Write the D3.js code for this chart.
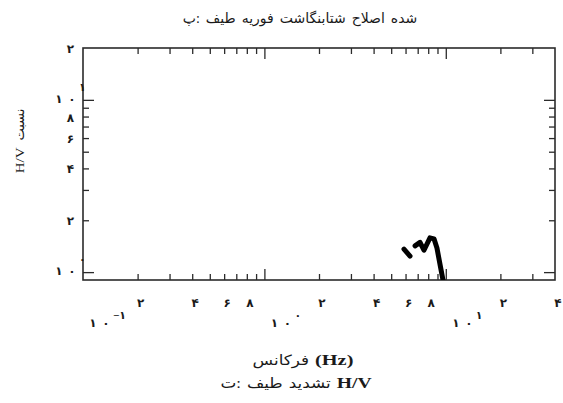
<!DOCTYPE html>
<html>
<head>
<meta charset="utf-8">
<script src="https://cdn.jsdelivr.net/npm/d3@7"></script>
<style>
  html, body { margin: 0; padding: 0; background: #fff; }
  svg { display: block; }
  text { font-family: "Liberation Serif", "DejaVu Sans", serif; fill: #1a1a1a; }
</style>
</head>
<body>
<script>
// ---------- data ----------
const titleWords   = ["پ:", "طیف", "فوریه", "شتابنگاشت", "اصلاح", "شده"];
const xTitleWords  = ["فرکانس", "(Hz)"];
const captionWords = ["ت:", "طیف", "تشدید", "H/V"];
const yTitleWords  = ["H/V", "نسبت"];

const xDomain = [0.1, 40];
const yDomain = [0.9, 20];

const xMinorTicks = [0.2, 0.3, 0.4, 0.5, 0.6, 0.7, 0.8, 0.9, 2, 3, 4, 5, 6, 7, 8, 9, 20, 30];
const xMajorTicks = [1, 10];
const yMinorTicks = [2, 3, 4, 5, 6, 7, 8, 9];
const yMajorTicks = [1, 10];

const xDigitValues = [0.2, 0.4, 0.6, 0.8, 2, 4, 6, 8, 20, 40];
const xDigitLabels = ["۲", "۴", "۶", "۸", "۲", "۴", "۶", "۸", "۲", "۴"];
const xDecadeValues = [0.1, 1, 10];
const xDecadeExps   = ["−۱", "۰", "۱"];

const yDigitValues = [2, 4, 6, 8, 20];
const yDigitLabels = ["۲", "۴", "۶", "۸", "۲"];
const yDecadeValues = [1, 10];
const yDecadeExps   = ["۰", "۱"];

// H/V curve fragments visible in the panel
const curveFreq = [6.77, 7.21, 7.58, 8.18, 8.61, 8.94, 9.29, 9.65];
const curveHV   = [1.42, 1.49, 1.34, 1.58, 1.56, 1.38, 1.11, 0.90];
const blipFreq  = [5.88, 6.35];
const blipHV    = [1.36, 1.24];

// ---------- layout ----------
const W = 563, H = 403;
const L = 83, R = 555, T = 48, B = 280;

const svg = d3.select("body").append("svg").attr("width", W).attr("height", H);
svg.append("rect").attr("width", W).attr("height", H).attr("fill", "#fff");

const x = d3.scaleLog().domain(xDomain).range([L, R]);
const y = d3.scaleLog().domain(yDomain).range([B, T]);

const lineColor = "#2b2b2b";
function styleAxis(g) {
  g.select(".domain").remove();
  g.selectAll(".tick line").attr("stroke", lineColor).attr("stroke-width", 1.3);
  g.selectAll(".tick text").remove();
}
const axes = [
  [d3.axisBottom, B, "x"], [d3.axisTop, T, "x"],
  [d3.axisLeft, L, "y"], [d3.axisRight, R, "y"]
];
axes.forEach(([fn, pos, dim]) => {
  const sc = dim === "x" ? x : y;
  const minor = dim === "x" ? xMinorTicks : yMinorTicks;
  const major = dim === "x" ? xMajorTicks : yMajorTicks;
  [[minor, 6], [major, 11]].forEach(([vals, len]) => {
    const g = svg.append("g")
      .attr("transform", dim === "x" ? `translate(0,${pos})` : `translate(${pos},0)`)
      .call(fn(sc).tickValues(vals).tickSize(-len).tickFormat(""));
    styleAxis(g);
  });
});

// frame
svg.append("rect").attr("x", L).attr("y", T).attr("width", R - L).attr("height", B - T)
  .attr("fill", "none").attr("stroke", lineColor).attr("stroke-width", 1.6);

// clip for data
svg.append("clipPath").attr("id", "clip").append("rect")
  .attr("x", L).attr("y", T).attr("width", R - L).attr("height", B - T);

const line = d3.line().x(d => x(d[0])).y(d => y(d[1]));
const dataG = svg.append("g").attr("clip-path", "url(#clip)");
dataG.append("path")
  .attr("d", line(curveFreq.map((f, i) => [f, curveHV[i]])))
  .attr("fill", "none").attr("stroke", "#000").attr("stroke-width", 5)
  .attr("stroke-linejoin", "round").attr("stroke-linecap", "round");
dataG.append("path")
  .attr("d", line(blipFreq.map((f, i) => [f, blipHV[i]])))
  .attr("fill", "none").attr("stroke", "#000").attr("stroke-width", 5)
  .attr("stroke-linecap", "round");

// x tick labels
svg.selectAll(".xdig").data(xDigitValues).enter().append("text")
  .attr("x", d => x(d) + 3).attr("y", 307)
  .attr("text-anchor", "middle").attr("font-size", 12).attr("font-weight", "bold")
  .text((d, i) => xDigitLabels[i]);
function decadeLabel(px, py, exp, raise) {
  const g = svg.append("g").attr("font-size", 12).attr("font-weight", "bold");
  g.append("text").attr("x", px).attr("y", py).attr("text-anchor", "middle").text("۱");
  g.append("text").attr("x", px + 13).attr("y", py).attr("text-anchor", "middle").text("۰");
  g.append("text").attr("x", px + 20).attr("y", py - raise).attr("text-anchor", "start")
    .attr("font-size", 11).text(exp);
}
xDecadeValues.forEach((v, i) => decadeLabel(x(v) + 10, 327, xDecadeExps[i], 8));

// y tick labels
svg.selectAll(".ydig").data(yDigitValues).enter().append("text")
  .attr("x", 74).attr("y", d => y(d) + 5)
  .attr("text-anchor", "end").attr("font-size", 12).attr("font-weight", "bold")
  .text((d, i) => yDigitLabels[i]);
yDecadeValues.forEach((v, i) => decadeLabel(59, y(v) + 3, yDecadeExps[i], 12));

// word-by-word left-to-right text placement (matches the original typesetting,
// which is also horizontally stretched)
const isLatin = w => /[A-Za-z]/.test(w);
function placeWords(parent, words, cx, baseY, size, gap, faStretch, latStretch, latBold) {
  const g = parent.append("g").attr("font-size", size);
  const nodes = words.map(w => {
    const t = g.append("text").attr("y", baseY).text(w);
    if (isLatin(w)) t.attr("font-family", "'DejaVu Serif', 'Liberation Serif', serif")
                     .attr("font-weight", latBold ? "bold" : "normal");
    return t;
  });
  const widths = nodes.map((n, i) => {
    const w0 = n.node().getComputedTextLength();
    const s = isLatin(words[i]) ? latStretch : faStretch;
    const w = w0 * s;
    if (s !== 1) n.attr("textLength", w).attr("lengthAdjust", "spacingAndGlyphs");
    return w;
  });
  const total = d3.sum(widths) + gap * (words.length - 1);
  let cur = cx - total / 2;
  nodes.forEach((n, i) => { n.attr("x", cur); cur += widths[i] + gap; });
  return g;
}
placeWords(svg, titleWords, 300, 23, 14, 6, 1, 1, false);
placeWords(svg, xTitleWords, 303, 365, 14, 6, 1.2, 1.45, true);
placeWords(svg, captionWords, 296, 388, 14, 6, 1.2, 1.4, true);
const yt = svg.append("g").attr("transform", "translate(24,141) rotate(-90)");
placeWords(yt, yTitleWords, 0, 0, 13, 7, 1, 1.15, false);
</script>
</body>
</html>
